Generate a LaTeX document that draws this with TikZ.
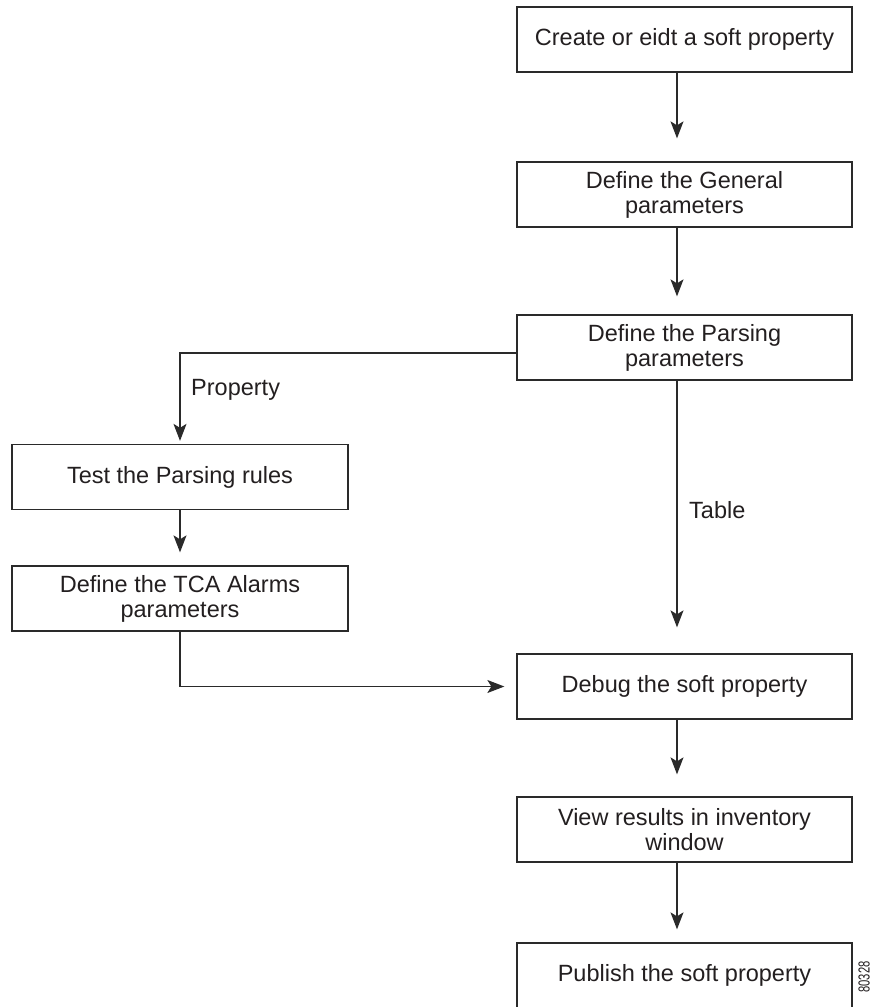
\documentclass[tikz,border=0pt]{standalone}
\usepackage{fontspec}
\setmainfont{Liberation Sans}
\usetikzlibrary{arrows.meta}
\definecolor{txt}{HTML}{231F20}
\definecolor{ln}{HTML}{2A2A2A}
\begin{document}
\begin{tikzpicture}[x=1pt,y=1pt,
  box/.style={draw=ln, line width=1.3pt, fill=white, minimum height=65pt, inner sep=0pt,
    align=center, text=txt, font=\fontsize{23.5}{25}\selectfont},
  rbox/.style={box, minimum width=335pt},
  lbox/.style={box, minimum width=336pt},
  arr/.style={draw=ln, line width=1.3pt, -{Stealth[length=17pt,width=13pt,inset=4pt]}},
  lbl/.style={text=txt, font=\fontsize{23.5}{25}\selectfont, inner sep=0pt, anchor=base west}]
\clip (0,0) rectangle (871,-1007);
\fill[white] (0,0) rectangle (871,-1007);
\coordinate (ax) at (677,0);
\node[rbox] (b1) at (684.5,-39.5) {Create or eidt a soft property};
\node[rbox] (b2) at (684.5,-194.5) {Define the General\\parameters};
\node[rbox] (b3) at (684.5,-347.5) {Define the Parsing\\parameters};
\node[lbox] (test) at (180,-477) {Test the Parsing rules};
\node[lbox] (tca) at (180,-598.5) {Define the TCA Alarms\\parameters};
\node[rbox] (debug) at (684.5,-686.5) {Debug the soft property};
\node[rbox] (view) at (684.5,-829.5) {View results in inventory\\window};
\node[rbox, minimum height=70pt] (pub) at (684.5,-978) {};
\node[text=txt, font=\fontsize{23.5}{25}\selectfont, inner sep=0pt] (pubt) at (684.5,-975.5) {Publish the soft property};
\draw[arr, shorten >=23pt] (b1.south -| ax) -- (b2.north -| ax);
\draw[arr, shorten >=18pt] (b2.south -| ax) -- (b3.north -| ax);
\draw[arr, shorten >=26pt] (b3.south -| ax) -- (debug.north -| ax);
\draw[arr, shorten >=22pt] (debug.south -| ax) -- (view.north -| ax);
\draw[arr, shorten >=13pt] (view.south -| ax) -- (pub.north -| ax);
\draw[arr, shorten >=3pt] ([yshift=-5.5pt]b3.west) -| (test.north);
\draw[arr, shorten >=13pt] (test.south) -- (tca.north);
\draw[arr, shorten >=12pt] (tca.south) |- (debug.west);
\node[lbl] (lprop) at (191,-395) {Property};
\node[lbl] (ltab) at (689,-518) {Table};
\node[rotate=90, text=txt, inner sep=0pt] (code) at (864,-977) {\scalebox{0.7}[1]{\fontsize{16}{16}\selectfont 80328}};
\end{tikzpicture}
\end{document}
